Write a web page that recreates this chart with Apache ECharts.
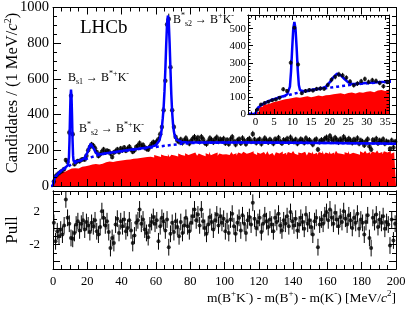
<!DOCTYPE html>
<html><head><meta charset="utf-8">
<script src="https://cdn.jsdelivr.net/npm/echarts@6/dist/echarts.min.js"></script>
<style>html,body{margin:0;padding:0;background:#fff}#c{width:409px;height:311px}</style>
</head><body><div id="c"></div>
<script>
// ---- data (1 MeV bins, bin i spans [i, i+1]) ----
const counts = [
25,55,65,72,80,85,95,145,135,300,
505,290,122,135,140,138,147,150,148,170,
200,218,232,226,212,190,168,178,192,205,
188,198,194,182,162,188,195,205,190,210,
200,215,198,208,220,205,192,200,218,225,
240,222,230,215,208,205,220,235,245,240,
250,262,290,330,425,590,905,935,665,425,
330,275,255,248,260,242,255,268,250,238,
252,265,275,258,270,248,275,262,242,235,
250,268,258,245,262,272,250,262,255,265,
240,258,235,262,275,250,232,255,262,240,
268,252,235,258,265,250,292,260,242,255,
262,236,252,268,255,245,260,250,238,262,
255,270,248,240,258,252,265,245,272,255,
248,260,238,250,262,255,242,268,250,258,
245,232,255,262,205,248,258,250,265,272,
255,280,262,250,270,258,245,262,252,275,
260,248,265,255,242,260,250,268,238,255,
248,228,250,262,222,205,258,250,265,240,
255,248,262,238,250,245,208,255,215,248];

const bkgHist = [
12,42,55,62,70,75,80,86,90,94,
98,95,100,104,98,103,108,104,110,112,
115,118,121,116,123,126,120,128,125,131,
133,128,137,141,135,144,139,146,141,149,
144,151,147,154,149,157,152,159,154,161,
157,164,159,167,162,169,164,171,160,173,
168,175,163,177,170,174,166,179,162,175,
171,178,165,182,173,177,169,184,174,167,
180,172,187,177,170,182,174,180,167,184,
177,192,172,180,174,187,170,182,177,184,
178,186,173,182,190,176,184,171,188,180,
175,192,181,170,186,179,195,183,174,188,
180,172,190,183,177,194,175,185,181,170,
189,182,176,193,178,186,172,190,184,179,
196,181,174,188,183,177,192,185,171,189,
182,195,178,186,174,190,183,197,176,188,
181,193,179,187,175,198,184,180,191,177,
189,183,196,178,186,192,180,188,175,194,
185,179,197,182,190,176,193,186,181,199,
184,191,178,195,187,182,196,180,189,175];

const pulls = [
0.6,-1.6,-0.4,-1.0,-0.2,-0.8,0.3,3.4,1.2,0.5,
-1.2,-1.3,-0.6,0.4,0.8,-0.3,0.5,0.9,-0.2,0.7,
0.3,-0.5,0.6,0.2,0.9,-0.4,-0.8,0.1,2.0,1.2,
0.3,0.8,-0.5,-2.4,-1.2,-1.8,0.4,1.1,-0.6,0.8,
0.2,1.0,-0.4,0.0,0.9,-0.3,-1.8,-0.9,0.6,0.9,
2.2,0.5,1.0,-0.2,-0.6,-1.1,0.3,0.7,1.3,0.5,
0.9,-1.6,0.2,1.2,0.8,-0.3,1.0,-2.3,-0.7,0.6,
-0.5,0.8,0.1,-1.0,0.7,-0.6,0.3,1.2,0.2,-0.4,
0.6,1.4,2.2,0.9,1.6,0.3,2.2,0.8,0.0,-0.7,
0.4,1.3,0.7,-0.2,0.9,1.6,0.3,1.4,0.6,1.1,
-0.4,0.8,-0.6,1.0,1.7,0.2,-0.7,0.6,1.2,-0.3,
1.5,0.5,-0.6,0.9,1.3,0.4,3.0,1.1,0.0,0.7,
1.2,-0.5,0.5,1.5,0.8,0.1,1.0,0.4,-0.4,1.2,
0.7,1.7,0.3,-0.3,0.9,0.5,1.4,0.2,1.9,0.8,
0.3,1.1,-0.3,0.4,1.2,0.7,-0.1,1.6,0.5,0.9,
0.1,-0.8,0.8,1.2,-2.3,0.4,1.0,0.5,1.5,1.9,
0.9,2.2,1.2,0.5,1.8,1.0,0.2,1.3,0.7,2.0,
1.1,0.4,1.5,0.9,0.0,1.2,0.6,1.7,-0.1,1.0,
0.6,-0.8,0.7,1.5,-1.2,-2.4,1.2,0.7,1.6,0.1,
1.0,0.6,1.4,-0.1,0.7,0.4,-2.1,1.0,-1.5,0.5];

const fitTotal = [[-2,0],[0,0],[0.3,22],[0.7,36],[1,44],[1.5,52],[2,59],[3,70],[4,79],[5,87],[6,94],[7,101],[8,108],[8.6,116],
[9,125],[9.3,160],[9.6,250],[9.9,380],[10.2,500],[10.5,540],[10.8,500],[11.1,390],[11.4,260],[11.7,170],[12,140],[12.5,132],
[13,133],[14,137],[15,141],[16,145],[17,148],[18,152],[19,160],[20,185],[21,215],[22,236],[22.5,236],[23,226],[24,205],[25,185],
[26,176],[27,177],[28,179],[30,182],[32,185],[35,189],[40,196],[45,203],[50,209],[55,216],[58,222],[60,228],[61,236],[62,255],
[63,290],[63.5,330],[64,380],[64.5,440],[65,530],[65.5,650],[66,790],[66.5,910],[67,955],[67.5,920],[68,800],[68.5,650],
[69,510],[69.5,410],[70,345],[70.5,305],[71,280],[72,260],[73,252],[75,247],[78,245],[85,244],[100,243],[120,243],[140,242],
[160,241],[180,239],[190,238],[200,236]];

const fitBkg = [[-2,0],[0,0],[0.3,22],[0.7,36],[1,44],[1.5,52],[2,59],[3,70],[4,79],[5,87],[6,94],[7,100],[8,106],[9,111],
[10,117],[12,127],[14,134],[16,141],[18,148],[20,154],[22,160],[24,166],[26,172],[28,176],[30,180],[35,187],[40,194],[45,201],
[50,207],[55,213],[60,219],[65,225],[70,231],[75,236],[80,240],[85,242],[100,243],[120,243],[140,242],[160,241],[180,239],
[190,238],[200,236]];

const mainYLabels = [0,200,400,600,800,1000];
const mainXLabels = [0,20,40,60,80,100,120,140,160,180,200];
const pullYLabels = [-2,2];
const pullYMajor = [-4,-2,0,2,4];
const pullYMinor = [-4,-3,-2,-1,0,1,2,3,4];
const insetXLabels = [0,5,10,15,20,25,30,35];
const insetYLabels = [0,100,200,300,400,500];

const FONT = 'Liberation Serif';
const chart = echarts.init(document.getElementById('c'), null, {renderer:'canvas'});
const plain = v => String(v);

function ax(extra) {
  const base = {
    type:'value', z:5,
    axisLine:{show:true,onZero:false,lineStyle:{color:'#000',width:1}},
    axisTick:{show:true,inside:true,length:7,lineStyle:{color:'#000',width:1}},
    minorTick:{show:false},
    splitLine:{show:false},
    axisLabel:{show:false,color:'#000',fontFamily:FONT,formatter:plain}
  };
  const o = Object.assign({}, base, extra);
  ['axisLine','axisTick','minorTick','axisLabel'].forEach(k=>{ if(extra[k]) o[k]=Object.assign({}, base[k], extra[k]); });
  return o;
}

// step-histogram points: left edge of each bin, plus closing right edge
const histData = bkgHist.map((v,i)=>[i, v]).concat([[bkgHist.length, bkgHist[bkgHist.length-1]]]);
const ptData = counts.map((v,i)=>[i+0.5, v, Math.sqrt(v)]);
const pullData = pulls.map((v,i)=>[i+0.5, v, 1]);
const insetHist = bkgHist.slice(0,36).map((v,i)=>[i, v]).concat([[36, bkgHist[35]]]);
const insetPts = ptData.filter(d=>d[0] < 36);

function errRender(params, api) {
  const x = api.value(0), y = api.value(1), e = api.value(2);
  const a = api.coord([x, y-e]), b = api.coord([x, y+e]);
  return {type:'line', shape:{x1:a[0],y1:a[1],x2:b[0],y2:b[1]}, style:{stroke:'#000',lineWidth:1}};
}
function histSeries(xi, yi, data, z) {
  return {type:'line', xAxisIndex:xi, yAxisIndex:yi, data:data, step:'end', showSymbol:false, z:z,
    lineStyle:{width:0, color:'#ff0000'}, itemStyle:{color:'#ff0000'}, areaStyle:{color:'#ff0000', opacity:1}, silent:true};
}

const mainX = {min:0,max:200,interval:20,minorTick:{show:true,splitNumber:4,length:4,lineStyle:{color:'#000'}}};

const option = {
  animation:false,
  grid:[
    {left:53, top:7, width:343, height:179},
    {left:53, top:191, width:343, height:78},
    {left:248, top:15, width:141, height:99}
  ],
  xAxis:[
    ax(Object.assign({gridIndex:0, position:'bottom'}, mainX)),
    ax(Object.assign({gridIndex:0, position:'top'}, mainX)),
    ax(Object.assign({gridIndex:1, position:'bottom', axisLabel:{show:true,fontSize:12.5,margin:6,customValues:mainXLabels}}, mainX)),
    ax(Object.assign({gridIndex:1, position:'top'}, mainX)),
    ax({gridIndex:2, position:'bottom', min:-2, max:36, z:12, axisTick:{length:5, customValues:insetXLabels}, axisLabel:{show:true,fontSize:11,margin:3,customValues:insetXLabels}}),
    ax({gridIndex:2, position:'bottom', min:-2, max:36, interval:1, z:12, axisTick:{length:2.5}}),
    ax({gridIndex:2, position:'top', min:-2, max:36, interval:1, z:12, axisTick:{length:2.5}}),
    ax({gridIndex:2, position:'top', min:-2, max:36, z:12, axisTick:{length:5, customValues:insetXLabels}})
  ],
  yAxis:[
    ax({gridIndex:0, position:'left', min:0, max:1000, interval:200, axisTick:{length:8}, minorTick:{show:true,splitNumber:4,length:4,lineStyle:{color:'#000'}}, axisLabel:{show:true,fontSize:14.5,margin:4,customValues:mainYLabels}}),
    ax({gridIndex:0, position:'right', min:0, max:1000, interval:200, axisTick:{length:8}, minorTick:{show:true,splitNumber:4,length:4,lineStyle:{color:'#000'}}}),
    ax({gridIndex:1, position:'left', min:-4.9, max:4.4, axisTick:{length:7, customValues:pullYMajor}, axisLabel:{show:true,fontSize:13,margin:13,customValues:pullYLabels}}),
    ax({gridIndex:1, position:'left', min:-4.9, max:4.4, axisTick:{length:4, customValues:pullYMinor}}),
    ax({gridIndex:1, position:'right', min:-4.9, max:4.4, axisTick:{length:7, customValues:pullYMajor}}),
    ax({gridIndex:1, position:'right', min:-4.9, max:4.4, axisTick:{length:4, customValues:pullYMinor}}),
    ax({gridIndex:2, position:'left', min:0, max:580, interval:100, z:12, axisTick:{length:5}, minorTick:{show:true,splitNumber:5,length:2.5,lineStyle:{color:'#000'}}, axisLabel:{show:true,fontSize:11,margin:2,customValues:insetYLabels}}),
    ax({gridIndex:2, position:'right', min:0, max:580, interval:100, z:12, axisTick:{length:5}, minorTick:{show:true,splitNumber:5,length:2.5,lineStyle:{color:'#000'}}})
  ],
  series:[
    histSeries(0, 0, histData, 2),
    {type:'custom', xAxisIndex:0, yAxisIndex:0, renderItem:errRender, data:ptData, silent:true},
    {type:'scatter', xAxisIndex:0, yAxisIndex:0, data:ptData, symbolSize:4.5, itemStyle:{color:'#000'}, silent:true},
    {type:'line', xAxisIndex:0, yAxisIndex:0, data:fitBkg, showSymbol:false, lineStyle:{color:'#0000ff',width:2.5,type:[3,3]}, silent:true},
    {type:'line', xAxisIndex:0, yAxisIndex:0, data:fitTotal, showSymbol:false, lineStyle:{color:'#0000ff',width:2.5}, silent:true},
    {type:'custom', xAxisIndex:2, yAxisIndex:2, renderItem:errRender, data:pullData, silent:true},
    {type:'scatter', xAxisIndex:2, yAxisIndex:2, data:pullData, symbolSize:4, itemStyle:{color:'#000'}, silent:true},
    histSeries(4, 6, insetHist, 10),
    {type:'custom', xAxisIndex:4, yAxisIndex:6, renderItem:errRender, data:insetPts, z:10, silent:true},
    {type:'scatter', xAxisIndex:4, yAxisIndex:6, data:insetPts, symbolSize:4, itemStyle:{color:'#000'}, z:10, silent:true},
    {type:'line', xAxisIndex:4, yAxisIndex:6, data:fitBkg, showSymbol:false, lineStyle:{color:'#0000ff',width:2.5,type:[3,3]}, z:10, silent:true},
    {type:'line', xAxisIndex:4, yAxisIndex:6, data:fitTotal, showSymbol:false, lineStyle:{color:'#0000ff',width:2.5}, z:10, silent:true}
  ],
  graphic:[]
};

const rich12 = {
  b:{fontSize:12, fontFamily:FONT, lineHeight:16, color:'#000'},
  sub:{fontSize:8, fontFamily:FONT, lineHeight:8, verticalAlign:'bottom', color:'#000'},
  sup:{fontSize:8, fontFamily:FONT, lineHeight:8, verticalAlign:'top', color:'#000'}
};
function txt(x, y, text, rich, opts) {
  return Object.assign({type:'text', x:x, y:y, z:20, silent:true,
    style:Object.assign({text:text, rich:rich, fill:'#000', font:'12px '+FONT, textAlign:'left', align:'left', textVerticalAlign:'middle', verticalAlign:'middle'}, (opts&&opts.style)||{})},
    (opts&&opts.el)||{});
}

option.graphic = [
  {type:'rect', z:8, silent:true, shape:{x:248, y:15, width:141, height:99}, style:{fill:'#fff'}},
  txt(80, 28, 'LHCb', null, {style:{font:'19px '+FONT}}),
  txt(68, 78, '{b|B}{sub|s1}{b| → B}{sup|*+}{b|K}{sup|-}', rich12),
  txt(79, 129, '{b|B}{sup|*}{sub|s2}{b| → B}{sup|*+}{b|K}{sup|-}', rich12),
  txt(173, 20, '{b|B}{sup|*}{sub|s2}{b| → B}{sup|+}{b|K}{sup|-}', rich12),
  txt(0, 0, '{a|Candidates / (1 MeV/}{i|c}{s|2}{a|)}', {
      a:{fontSize:16.5, fontFamily:FONT, lineHeight:20, color:'#000'},
      i:{fontSize:16.5, fontFamily:FONT, fontStyle:'italic', lineHeight:20, color:'#000'},
      s:{fontSize:10, fontFamily:FONT, lineHeight:10, verticalAlign:'top', color:'#000'}},
    {style:{textAlign:'center', align:'center'}, el:{x:13, y:93, rotation:Math.PI/2}}),
  txt(0, 0, 'Pull', null, {style:{font:'17px '+FONT, textAlign:'center', align:'center'}, el:{x:13, y:230, rotation:Math.PI/2}}),
  txt(396, 298, '{a|m(B}{s|+}{a|K}{s|-}{a|) - m(B}{s|+}{a|) - m(K}{s|-}{a|) [MeV/}{i|c}{s|2}{a|]}', {
      a:{fontSize:13.5, fontFamily:FONT, lineHeight:18, color:'#000'},
      i:{fontSize:13.5, fontFamily:FONT, fontStyle:'italic', lineHeight:18, color:'#000'},
      s:{fontSize:9, fontFamily:FONT, lineHeight:9, verticalAlign:'top', color:'#000'}},
    {style:{textAlign:'right', align:'right'}})
];

chart.setOption(option);
</script></body></html>
